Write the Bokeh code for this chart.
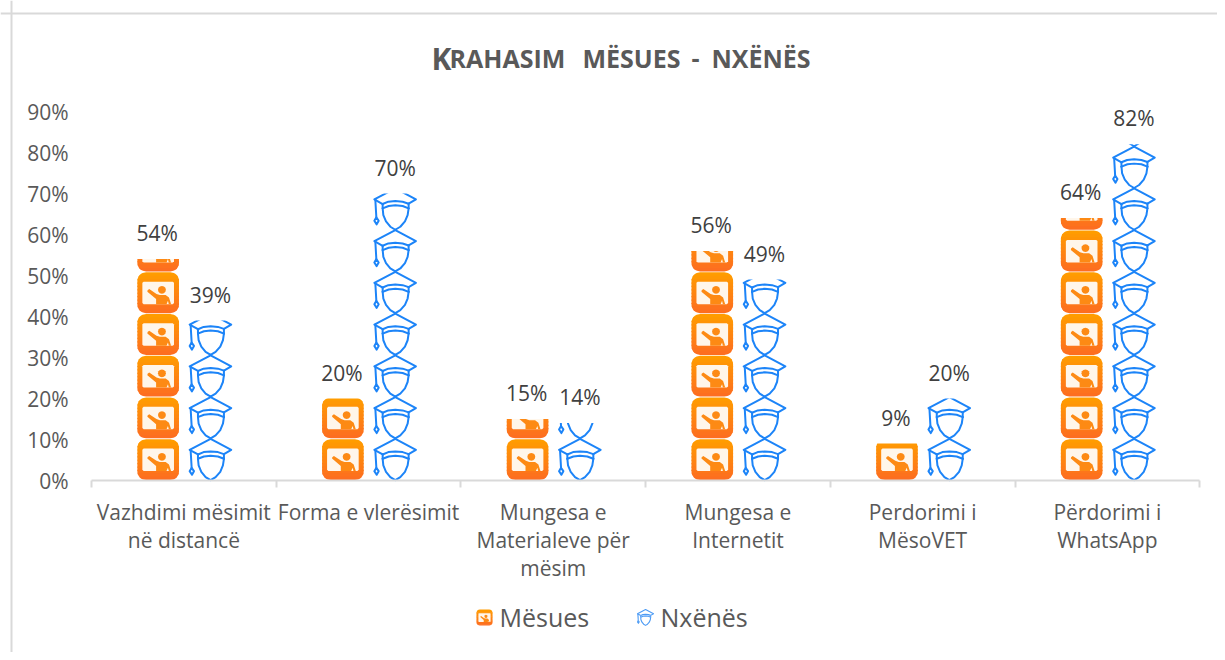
from bokeh.embed import file_html
from bokeh.resources import INLINE
from bokeh.plotting import figure
from bokeh.models import LinearAxis, FixedTicker, Range1d, Span
from bokeh.core.properties import value as V

categories = ["Vazhdimi mësimit\nnë distancë", "Forma e vlerësimit", "Mungesa e\nMaterialeve për\nmësim",
              "Mungesa e\nInternetit", "Perdorimi i\nMësoVET", "Përdorimi i\nWhatsApp"]
mesues = [54, 20, 15, 56, 9, 64]
nxenes = [39, 70, 14, 49, 20, 82]
y_ticks = [0, 10, 20, 30, 40, 50, 60, 70, 80, 90]
ICON_UNIT = 10.18  # one pictogram stands for this many percent
FONT = "Open Sans"

W, H = 1217, 652
def X(px): return (px - 91) / 184.7
def Y(py): return (480 - py) / 4.1

p = figure(width=W, height=H, output_backend="svg", toolbar_location=None,
           x_range=Range1d(X(0), X(W)), y_range=Range1d(Y(H), Y(0)),
           x_axis_type=None, y_axis_type=None, min_border=0,
           min_border_left=0, min_border_right=0, min_border_top=0, min_border_bottom=0)
p.outline_line_color = None
p.grid.visible = False
p.background_fill_color = "white"
p.border_fill_color = "white"

# chart-area border: only top and left are in view
p.add_layout(Span(location=X(11), dimension="height", line_color="#D9D9D9", line_width=2))
p.add_layout(Span(location=Y(13), dimension="width", line_color="#D9D9D9", line_width=2))

# ---------- pictogram templates (unit square, v measured from top) ----------
def lerp_hex(a, b, t):
    ca = [int(a[i:i+2], 16) for i in (1, 3, 5)]
    cb = [int(b[i:i+2], 16) for i in (1, 3, 5)]
    return "#%02x%02x%02x" % tuple(round(x + (y - x) * t) for x, y in zip(ca, cb))

def rr_halfwidth(v, r=0.21, h=0.5):
    d = 0.0
    if v < r: d = r - (r * r - (r - v) ** 2) ** 0.5
    elif v > 1 - r: d = r - (r * r - (v - 1 + r) ** 2) ** 0.5
    return h - d

def rr_band(v0, v1):
    n = 6
    vs = [v0 + (v1 - v0) * i / n for i in range(n + 1)]
    L = [(0.5 - rr_halfwidth(v), v) for v in vs]
    R = [(0.5 + rr_halfwidth(v), v) for v in reversed(vs)]
    return L + R

BANDS = 12
BOARD = [(.15, .23), (.85, .23), (.88, .26), (.88, .75), (.85, .78), (.15, .78), (.12, .75), (.12, .26)]
PERSON = [(.245, .44), (.285, .41), (.46, .53), (.54, .555), (.68, .555), (.76, .62), (.81, .78), (.755, .78),
          (.735, .70), (.70, .78), (.45, .78), (.45, .655), (.24, .475)]
HEAD = [(.59 + .095 * c, .43 + .095 * s) for c, s in
        [(1, 0), (.87, .5), (.5, .87), (0, 1), (-.5, .87), (-.87, .5), (-1, 0), (-.87, -.5), (-.5, -.87), (0, -1), (.5, -.87), (.87, -.5)]]

def B(pts):
    return [((x - 193) / 125, (y - 265) / 125) for x, y in pts]
CAP_LINES = [
    B([(218, 312), (193, 298), (256, 265), (318, 298), (296, 311)]),
    B([(218, 312), (235, 305), (256, 303), (278, 305), (296, 311)]),
    B([(218, 325), (236, 318), (256, 316), (278, 318), (296, 325)]),
    B([(218, 312), (218, 325)]), B([(296, 311), (296, 325)]),
    B([(218, 325), (220, 345), (228, 364), (241, 380), (256, 389), (271, 380), (285, 364), (293, 345), (296, 325)]),
    B([(196, 300), (199, 352)]),
    B([(199, 352), (206, 362), (200, 373), (193, 362), (199, 352)]),
]

class Bucket:
    def __init__(self):
        self.xs, self.ys, self.c = [], [], []
    def add(self, pts, x0, y_top, w, h, color):
        self.xs.append([x0 + u * w for u, v in pts])
        self.ys.append([y_top - v * h for u, v in pts])
        self.c.append(color)

def teacher(b, x0, y_top, w, h):
    for j in range(BANDS):
        v0, v1 = j / BANDS, min(1, (j + 1.35) / BANDS)
        b.add(rr_band(v0, v1), x0, y_top, w, h, lerp_hex("#FF9C00", "#FD6E20", j / (BANDS - 1)))
    b.add(BOARD, x0, y_top, w, h, "#FFF6EA")
    b.add(PERSON, x0, y_top, w, h, "#FD8A14")
    b.add(HEAD, x0, y_top, w, h, "#FD8A14")

def student(xs, ys, x0, y_top, w, h):
    for pts in CAP_LINES:
        xs.append([x0 + u * w for u, v in pts])
        ys.append([y_top - v * h for u, v in pts])

# ---------- stacks ----------
OFF_M, OFF_N, ICON_W = -0.139, 0.144, 41.6 / 184.7
fills, lx, ly, cx0, cx1, cy0, cy1 = Bucket(), [], [], [], [], [], []
def stack_count(val):
    n = 0
    while n * ICON_UNIT < val:
        n += 1
    return n

for i in range(len(categories)):
    for val, off in ((mesues[i], OFF_M), (nxenes[i], OFF_N)):
        c = i + 0.5 + off
        n = stack_count(val)
        for k in range(n):
            top = (k + 1) * ICON_UNIT
            if off < 0:
                teacher(fills, c - ICON_W / 2, top - 0.1, ICON_W, ICON_UNIT - 0.2)
            else:
                student(lx, ly, c - ICON_W / 2, top, ICON_W, ICON_UNIT)
        cx0.append(c - ICON_W / 2 - 0.02); cx1.append(c + ICON_W / 2 + 0.02)
        cy0.append(val); cy1.append(n * ICON_UNIT + 1)

p.patches(fills.xs, fills.ys, fill_color=fills.c, line_color=None)
p.multi_line(lx, ly, line_color="#1C84F8", line_width=2, line_join="round", line_cap="round")
# stack is cut off at its value
p.quad(left=cx0, right=cx1, bottom=cy0, top=cy1, fill_color="white", line_color=None)

# ---------- value labels ----------
centers = [i + 0.5 for i in range(len(categories))]
p.text([c + OFF_M for c in centers], mesues, text=[f"{v}%" for v in mesues], text_font=V(FONT), text_font_size="21px",
       text_color="#404040", text_align="center", text_baseline="middle", y_offset=-26, x_offset=-1)
p.text([c + OFF_N for c in centers], nxenes, text=[f"{v}%" for v in nxenes], text_font=V(FONT), text_font_size="21px",
       text_color="#404040", text_align="center", text_baseline="middle", y_offset=-26)

# ---------- axes ----------
xa = LinearAxis(fixed_location=0, bounds=(0, 6))
xa.ticker = FixedTicker(ticks=centers, minor_ticks=list(range(7)))
xa.major_label_overrides = {c: t for c, t in zip(centers, categories)}
xa.major_tick_line_color = None
xa.minor_tick_line_color = "#D9D9D9"; xa.minor_tick_line_width = 2
xa.minor_tick_in = 0; xa.minor_tick_out = 7
xa.axis_line_color = "#D9D9D9"; xa.axis_line_width = 2
xa.major_label_text_font = FONT; xa.major_label_text_font_size = "21px"
xa.major_label_text_color = "#595959"; xa.major_label_standoff = 10
xa.major_label_orientation = "horizontal"
xa.major_label_text_line_height = 1.0
p.add_layout(xa, "below")

ya = LinearAxis(fixed_location=0, bounds=(0, 90))
ya.ticker = FixedTicker(ticks=y_ticks)
ya.major_label_overrides = {t: f"{t}%" for t in y_ticks}
ya.axis_line_color = None; ya.major_tick_line_color = None; ya.minor_tick_line_color = None
ya.major_label_text_font = FONT; ya.major_label_text_font_size = "21px"
ya.major_label_text_color = "#595959"; ya.major_label_standoff = 17
ya.major_label_text_line_height = 0.8
p.add_layout(ya, "left")

# ---------- title ----------
p.text([X(431)], [Y(58)], text=["K"], text_font=V(FONT), text_font_size="30px", text_font_style="bold",
       text_color="#595959", text_align="left", text_baseline="alphabetic")
p.text([X(449), X(582), X(691), X(711)], [Y(57)] * 4, text=["RAHASIM", "MËSUES", "-", "NXËNËS"], text_font=V(FONT),
       text_font_size="25px", text_font_style="bold", text_color="#595959", text_align="left", text_baseline="alphabetic")

# ---------- legend ----------
lg = Bucket()
teacher(lg, X(476), Y(609), 16 / 184.7, 16 / 4.1)
p.patches(lg.xs, lg.ys, fill_color=lg.c, line_color=None)
lgx, lgy = [], []
student(lgx, lgy, X(637), Y(609), 16 / 184.7, 16 / 4.1)
p.multi_line(lgx, lgy, line_color="#4C9BF5", line_width=1.1, line_join="round")
p.text([X(499), X(660)], [Y(616), Y(616)], text=["Mësues", "Nxënës"], text_font=V(FONT), text_font_size="25px",
       text_color="#595959", text_align="left", text_baseline="middle")

open("out.html", "w").write(file_html(p, INLINE))
